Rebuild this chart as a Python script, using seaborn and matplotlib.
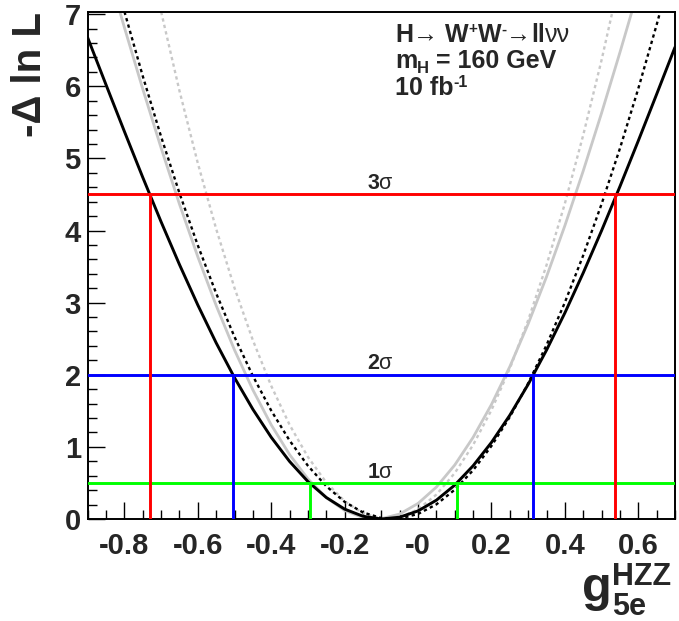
import matplotlib
matplotlib.use("Agg")
import matplotlib.pyplot as plt
from matplotlib.ticker import MultipleLocator
import seaborn as sns

sns.set_style("ticks")
plt.rcParams['font.family'] = ['Liberation Sans', 'DejaVu Sans']
plt.rcParams['mathtext.fontset'] = 'custom'
plt.rcParams['mathtext.rm'] = 'Liberation Sans'
plt.rcParams['mathtext.bf'] = 'Liberation Sans:bold'
plt.rcParams['mathtext.it'] = 'Liberation Sans:italic'
plt.rcParams['mathtext.sf'] = 'Liberation Sans'

# ---------------- data ----------------
g_values = [-0.90, -0.85, -0.80, -0.75, -0.70, -0.65, -0.60, -0.55, -0.50, -0.45,
            -0.40, -0.35, -0.30, -0.25, -0.20, -0.15, -0.10, -0.05, 0.00, 0.05,
            0.10, 0.15, 0.20, 0.25, 0.30, 0.35, 0.40, 0.45, 0.50, 0.55,
            0.60, 0.65, 0.70]

nll_black_solid = [6.673, 6.020, 5.373, 4.737, 4.120, 3.528, 2.967, 2.442, 1.959, 1.521,
                   1.133, 0.798, 0.519, 0.298, 0.137, 0.038, 0.000, 0.025, 0.112, 0.261,
                   0.470, 0.738, 1.062, 1.439, 1.867, 2.342, 2.858, 3.413, 3.999, 4.611,
                   5.244, 5.890, 6.542]

nll_black_dotted = [8.994, 7.988, 7.037, 6.141, 5.301, 4.518, 3.794, 3.129, 2.525, 1.983,
                    1.503, 1.088, 0.738, 0.455, 0.238, 0.091, 0.013, 0.006, 0.070, 0.203,
                    0.406, 0.676, 1.013, 1.415, 1.882, 2.411, 3.003, 3.656, 4.368, 5.139,
                    5.968, 6.853, 7.794]

nll_gray_solid = [8.587, 7.692, 6.815, 5.962, 5.144, 4.366, 3.636, 2.960, 2.343, 1.790,
                  1.305, 0.893, 0.556, 0.297, 0.118, 0.020, 0.004, 0.069, 0.216, 0.443,
                  0.749, 1.132, 1.588, 2.113, 2.706, 3.359, 4.068, 4.827, 5.630, 6.470,
                  7.338, 8.228, 9.128]

nll_gray_dotted = [12.354, 10.885, 9.508, 8.225, 7.035, 5.937, 4.933, 4.022, 3.203, 2.478,
                   1.846, 1.306, 0.860, 0.506, 0.246, 0.079, 0.004, 0.023, 0.134, 0.339,
                   0.637, 1.027, 1.511, 2.087, 2.757, 3.520, 4.375, 5.324, 6.365, 7.500,
                   8.727, 10.048, 11.461]

sigma_levels = [0.5, 2.0, 4.5]
sigma_labels = ["1", "2", "3"]
sigma_left = [-0.294, -0.505, -0.729]
sigma_right = [0.107, 0.313, 0.537]
sigma_colors = ["#00ff00", "#0000ff", "#ff0000"]

x_ticks = [-0.8, -0.6, -0.4, -0.2, 0.0, 0.2, 0.4, 0.6]
x_tick_labels = ["-0.8", "-0.6", "-0.4", "-0.2", "-0", "0.2", "0.4", "0.6"]
y_ticks = [0, 1, 2, 3, 4, 5, 6, 7]
y_tick_labels = ["0", "1", "2", "3", "4", "5", "6", "7"]

# ---------------- figure ----------------
W, H = 679, 621
fig = plt.figure(figsize=(W / 100, H / 100), dpi=100)
ax_l, ax_r, ax_t, ax_b = 87.7, 675.0, 12.0, 519.0
ax = fig.add_axes([ax_l / W, 1 - ax_b / H, (ax_r - ax_l) / W, (ax_b - ax_t) / H])

gray = "#c8c8c8"
sns.lineplot(x=g_values, y=nll_gray_dotted, ax=ax, color=gray, lw=1.7,
             linestyle=(0, (1.4, 1.4)))
sns.lineplot(x=g_values, y=nll_gray_solid, ax=ax, color=gray, lw=2.0)
sns.lineplot(x=g_values, y=nll_black_dotted, ax=ax, color="black", lw=1.7,
             linestyle=(0, (1.4, 1.4)))
sns.lineplot(x=g_values, y=nll_black_solid, ax=ax, color="black", lw=2.1)

for lev, lab, xl, xr, col in zip(sigma_levels, sigma_labels, sigma_left,
                                 sigma_right, sigma_colors):
    ax.axhline(lev, color=col, lw=2.1, zorder=5)
    ax.vlines([xl, xr], 0, lev, color=col, lw=2.1, zorder=5)
    ax.text(-0.103, lev + 0.075, r"$\mathbf{" + lab + r"}\mathrm{\sigma}$",
            ha="center", va="baseline", fontsize=15.5, zorder=6)

ax.set_xlim(-0.9, 0.7)
ax.set_ylim(0, 7.03)
ax.set_xticks(x_ticks)
ax.set_xticklabels(x_tick_labels, fontweight="bold", fontsize=21)
ax.set_yticks(y_ticks)
ax.set_yticklabels(y_tick_labels, fontweight="bold", fontsize=21)
ax.xaxis.set_minor_locator(MultipleLocator(0.05))
ax.yaxis.set_minor_locator(MultipleLocator(0.2))
ax.tick_params(axis="both", which="major", direction="in", length=12.5, width=1.0,
               color="black", top=False, right=False)
ax.tick_params(axis="both", which="minor", direction="in", length=6.5, width=1.0,
               color="black", top=False, right=False)
ax.tick_params(axis="x", which="major", pad=9)
ax.tick_params(axis="y", which="major", pad=5)
for s in ax.spines.values():
    s.set_visible(True)
    s.set_linewidth(1.4)
    s.set_color("black")
ax.set_xlabel("")
ax.set_ylabel("")

# ---------------- text helpers (pixel coordinates, y from top) ----------------
renderer = fig.canvas.get_renderer()


def chain(x0, base, pieces):
    x = x0
    for s, size, dy, weight in pieces:
        t = fig.text(x / W, 1 - (base - dy) / H, s, fontsize=size,
                     fontweight=weight, ha="left", va="baseline")
        x += t.get_window_extent(renderer=renderer).width


chain(395, 41.5, [("H", 18, 0, "bold"), ("\u2192", 18, 0, "normal"),
                  (" W", 18, 0, "bold"), ("+", 11, 8, "bold"),
                  ("W", 18, 0, "bold"), ("-", 11, 8, "bold"),
                  ("\u2192", 18, 0, "normal"), ("ll", 18, 0, "bold"),
                  ("\u03bd\u03bd", 18, 0, "normal")])
chain(395, 68.0, [("m", 18, 0, "bold"), ("H", 12, -5, "bold"),
                  (" = 160 GeV", 18, 0, "bold")])
chain(395, 95.0, [("10 fb", 18, 0, "bold"), ("-1", 11.5, 8, "bold")])

# axis titles
fig.text(30 / W, 1 - 12 / H, "-\u0394 ln L", rotation=90, ha="center", va="top",
         fontsize=29, fontweight="bold")
fig.text(582 / W, 1 - 601 / H, "g", ha="left", va="baseline", fontsize=35,
         fontweight="bold")
fig.text(612 / W, 1 - 585 / H, "HZZ", ha="left", va="baseline", fontsize=22,
         fontweight="bold")
fig.text(612 / W, 1 - 615 / H, "5e", ha="left", va="baseline", fontsize=22,
         fontweight="bold")

fig.savefig("out.png", dpi=100)
